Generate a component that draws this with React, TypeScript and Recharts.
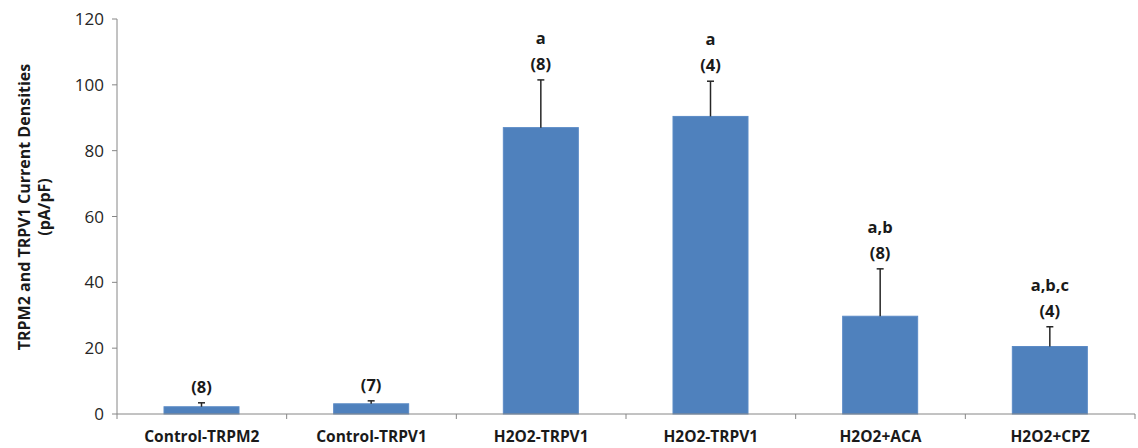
import React from 'react';
import { BarChart, Bar, XAxis, YAxis } from 'recharts';

const categories = ['Control-TRPM2', 'Control-TRPV1', 'H2O2-TRPV1', 'H2O2-TRPV1', 'H2O2+ACA', 'H2O2+CPZ'];
const means = [2.2, 3.1, 87.0, 90.4, 29.7, 20.5];
const sems = [1.2, 0.9, 14.5, 10.7, 14.4, 6.0];
const nLabels = ['(8)', '(7)', '(8)', '(4)', '(8)', '(4)'];
const sigLabels = ['', '', 'a', 'a', 'a,b', 'a,b,c'];
const yTicks = [0, 20, 40, 60, 80, 100, 120];

const data = categories.map((name, i) => ({
  name,
  mean: means[i],
  sem: sems[i],
  n: nLabels[i],
  sig: sigLabels[i],
}));

const W = 1138;
const H = 448;
const Y_AXIS_W = 117;
const RIGHT = 3;
const X_AXIS_H = 34;
const TOP = 19;
const BAND = (W - Y_AXIS_W - RIGHT) / categories.length;
const FONT = '"Open Sans", "Noto Sans", sans-serif';
const AXIS_COLOR = '#868686';

const BarWithError = (props: any) => {
  const { x, y, width, height, payload } = props;
  const ppu = payload.mean ? height / payload.mean : 0;
  const errTop = y - payload.sem * ppu;
  const cx = x + width / 2;
  return (
    <g>
      <rect x={x} y={y} width={width} height={height} fill="#4F81BD" stroke="#5B8BC6" strokeWidth={1} />
      <line x1={cx} y1={y} x2={cx} y2={errTop} stroke="#262626" strokeWidth={1.5} />
      <line x1={cx - 3.5} y1={errTop} x2={cx + 3.5} y2={errTop} stroke="#262626" strokeWidth={1.5} />
      <text x={cx} y={errTop - 10} textAnchor="middle" fontFamily={FONT} fontWeight="bold" fontSize={16.5} fill="#1a1a1a">
        {payload.n}
      </text>
      {payload.sig ? (
        <text x={cx} y={errTop - 36} textAnchor="middle" fontFamily={FONT} fontWeight="bold" fontSize={16.5} fill="#1a1a1a">
          {payload.sig}
        </text>
      ) : null}
    </g>
  );
};

const XTick = (props: any) => {
  const { x, payload, index } = props;
  const axisY = H - X_AXIS_H;
  const last = index === categories.length - 1;
  return (
    <g>
      <line x1={x - BAND / 2} y1={axisY} x2={x - BAND / 2} y2={axisY + 5} stroke={AXIS_COLOR} strokeWidth={1} />
      {last ? (
        <line x1={x + BAND / 2} y1={axisY} x2={x + BAND / 2} y2={axisY + 5} stroke={AXIS_COLOR} strokeWidth={1} />
      ) : null}
      <text x={x} y={axisY + 28} textAnchor="middle" fontFamily={FONT} fontWeight="bold" fontSize={15.5} fill="#1a1a1a">
        {payload.value}
      </text>
    </g>
  );
};

const YTitle = () => (
  <text transform={`translate(30, 207) rotate(-90)`} textAnchor="middle" fontFamily={FONT} fontWeight="bold" fontSize={16} fill="#1a1a1a">
    <tspan x={0} dy={0}>TRPM2 and TRPV1 Current Densities</tspan>
    <tspan x={0} dy={20}>(pA/pF)</tspan>
  </text>
);

export default function App() {
  return (
    <div style={{ position: 'fixed', left: 0, top: 0, width: W, height: H, background: '#fff' }}>
      <BarChart width={W} height={H} data={data} margin={{ top: TOP, right: RIGHT, left: 0, bottom: 0 }}>
        <XAxis
          dataKey="name"
          height={X_AXIS_H}
          axisLine={{ stroke: AXIS_COLOR }}
          tickLine={false}
          tick={<XTick />}
          interval={0}
        />
        <YAxis
          width={Y_AXIS_W}
          domain={[0, 120]}
          ticks={yTicks}
          interval={0}
          axisLine={{ stroke: AXIS_COLOR }}
          tickLine={{ stroke: AXIS_COLOR }}
          tickSize={5}
          tickMargin={8}
          tick={{ fontFamily: FONT, fontSize: 17, fill: '#262626' }}
          label={{ content: () => <YTitle /> }}
        />
        <Bar dataKey="mean" barSize={75} isAnimationActive={false} shape={<BarWithError />} />
      </BarChart>
    </div>
  );
}
